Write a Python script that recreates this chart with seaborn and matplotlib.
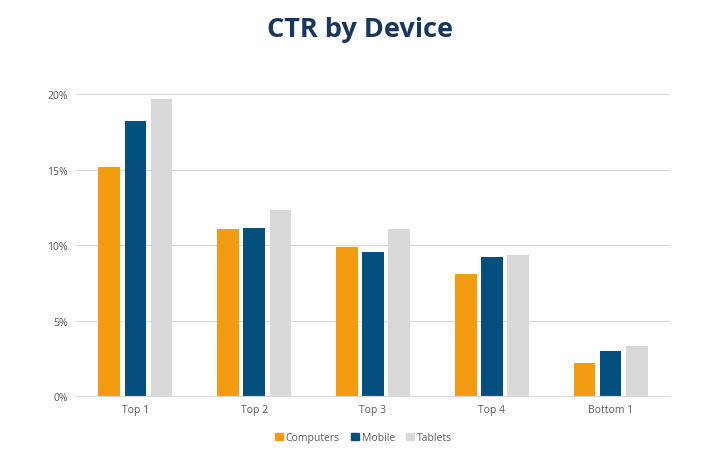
import pandas as pd
import matplotlib.pyplot as plt
import seaborn as sns
from matplotlib.ticker import PercentFormatter

categories = ['Top 1', 'Top 2', 'Top 3', 'Top 4', 'Bottom 1']
devices = ['Computers', 'Mobile', 'Tablets']
computers = [15.2, 11.1, 9.9, 8.1, 2.2]
mobile = [18.2, 11.15, 9.55, 9.2, 3.0]
tablets = [19.7, 12.3, 11.1, 9.35, 3.3]

PALETTE = {'Computers': '#F39C12', 'Mobile': '#03507E', 'Tablets': '#D9D9D9'}

df = pd.DataFrame(
    [(c, d, v) for d, vals in zip(devices, [computers, mobile, tablets])
     for c, v in zip(categories, vals)],
    columns=['Position', 'Device', 'CTR'],
)

sns.set_style('white')
plt.rcParams['font.family'] = ['Open Sans', 'DejaVu Sans']

fig = plt.figure(figsize=(7.2, 4.6), dpi=100)
ax = fig.add_axes([0.1056, 0.137, 0.825, 0.656])

sns.barplot(data=df, x='Position', y='CTR', hue='Device', order=categories,
            hue_order=devices, palette=PALETTE, width=0.66, gap=0.17,
            saturation=1, linewidth=0, ax=ax, legend=False)

ax.set_ylim(0, 20)
ax.set_yticks([0, 5, 10, 15, 20])
ax.yaxis.set_major_formatter(PercentFormatter(decimals=0))
ax.grid(axis='y', color='#D9D9D9', linewidth=0.8)
ax.set_axisbelow(True)
for s in ['top', 'right', 'left']:
    ax.spines[s].set_visible(False)
ax.spines['bottom'].set_color('#D9D9D9')
ax.tick_params(axis='both', length=0, labelsize=7.5, colors='#595959', pad=6)
ax.set_xlabel('')
ax.set_ylabel('')

fig.suptitle('CTR by Device', x=0.5, y=0.962, fontsize=19.5, fontweight='bold',
             color='#17375E')

handles = [plt.Rectangle((0, 0), 1, 1, color=PALETTE[d]) for d in devices]
fig.legend(handles, devices, loc='center', bbox_to_anchor=(0.505, 0.047),
           ncol=3, frameon=False, fontsize=7.5, handlelength=0.7,
           handleheight=0.7, handletextpad=0.3, columnspacing=1.1,
           labelcolor='#595959')

fig.savefig('out.png', dpi=100)
